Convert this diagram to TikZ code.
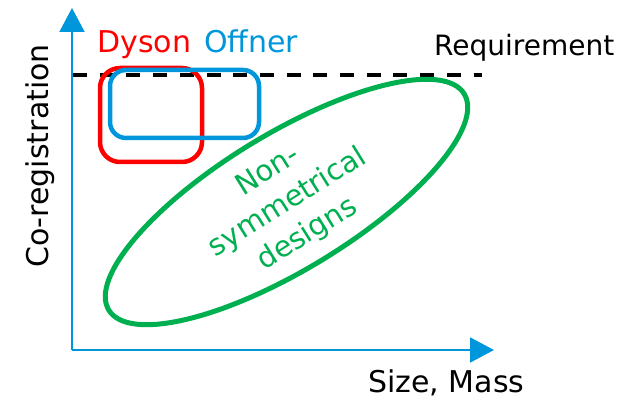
\documentclass[tikz,border=0pt]{standalone}
\usepackage{fontspec}
\setmainfont{DejaVu Sans}
\usetikzlibrary{arrows.meta}
\definecolor{axisblue}{RGB}{0,150,220}
\definecolor{dysonred}{RGB}{255,0,0}
\definecolor{nsgreen}{RGB}{0,176,80}
\tikzset{
  axis/.style={draw=axisblue, line width=2pt, -{Triangle[length=24pt,width=25pt]}},
  label/.style={font=\fontsize{30}{34}\selectfont, inner sep=0pt},
  region/.style={line width=4.5pt},
}
\begin{document}
\begin{tikzpicture}[x=1pt,y=1pt]
\useasboundingbox (0,0) rectangle (637,399);
% axes
\coordinate (o) at (72,49);
\coordinate (ytip) at (72,391);
\coordinate (xtip) at (494,49);
\draw[axis] (o) -- (ytip);
\draw[axis] (o) -- (xtip);
% requirement level
\coordinate (reqa) at (73,324);
\coordinate (reqb) at (482,324);
\draw[black, line width=4.5pt, dash pattern=on 14pt off 12.7pt] (reqa) -- (reqb);
% design regions
\draw[region, dysonred, rounded corners=20pt] (100,237) rectangle (202,331);
\draw[region, axisblue, rounded corners=16pt] (110,261) rectangle (259,329);
\draw[nsgreen, line width=5pt, rotate around={31.3:(286.5,197)}]
  (286.5,197) ellipse [x radius=208, y radius=68];
% labels
\node[label, dysonred, anchor=base west] (dyson) at (97,346) {Dyson};
\node[label, axisblue, anchor=base west] (offner) at (204,346) {Offner};
\node[label, black, anchor=base west, font=\fontsize{28}{32}\selectfont] (req) at (434,343) {Requirement};
\node[label, black, anchor=base west] (xlab) at (368,7) {Size, Mass};
\node[label, black, rotate=90, anchor=base] (ylab) at (48,243) {Co-registration};
\node[label, nsgreen, rotate=32, align=center, font=\fontsize{29}{37}\selectfont]
  (ns) at (288,196) {Non-\\symmetrical\\designs};
\end{tikzpicture}
\end{document}
